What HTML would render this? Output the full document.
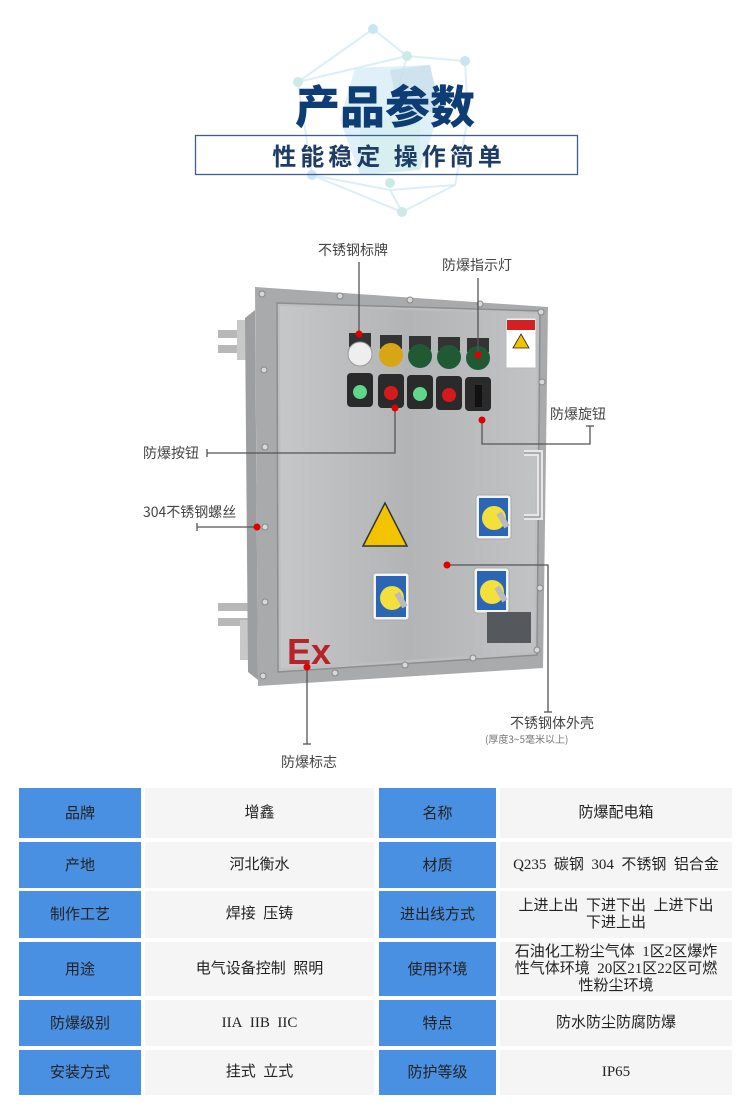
<!DOCTYPE html>
<html><head><meta charset="utf-8">
<style>
*{margin:0;padding:0;box-sizing:border-box}
body{width:750px;height:1118px;background:#fff;font-family:"Liberation Sans","Noto Sans CJK SC",sans-serif;position:relative;overflow:hidden}
.t{position:absolute;font-family:"Noto Sans CJK SC",sans-serif}
.cell{position:absolute;display:flex;align-items:center;justify-content:center;text-align:center;font-size:15px;color:#222;font-family:"Liberation Serif","WenQuanYi Zen Hei",serif;line-height:17px;white-space:nowrap}
.h{background:#4a90e2;font-family:"Liberation Sans","WenQuanYi Zen Hei",sans-serif}
.v{background:#f5f5f5}
</style></head><body>
<svg width="750" height="1118" style="position:absolute;left:0;top:0">
<g stroke="#ddeef7" stroke-width="2" fill="none">
<polyline points="373,29 407,56 465,61 468,118 455,185 402,212 312,175 298,82 373,29"/>
<line x1="407" y1="56" x2="390" y2="120"/><line x1="312" y1="175" x2="390" y2="190"/><line x1="298" y1="82" x2="407" y2="56"/><line x1="390" y1="190" x2="402" y2="212"/><line x1="455" y1="185" x2="390" y2="190"/>
</g>
<polygon points="355,68 430,65 440,110 420,170 360,175 340,120" fill="#d2eaf6" opacity="0.7"/>
<polygon points="390,70 430,65 440,110 400,120" fill="#c3dbe6" opacity="0.6"/>
<polygon points="360,120 420,120 420,170 360,175" fill="#d2efe8" opacity="0.6"/>
<g fill="#c8e6f1"><circle cx="373" cy="29" r="5"/><circle cx="465" cy="61" r="5"/><circle cx="298" cy="82" r="5" fill="#cdeae4"/><circle cx="407" cy="56" r="5" fill="#cdeae4"/><circle cx="312" cy="175" r="5"/><circle cx="390" cy="183" r="5" fill="#cdeae4"/><circle cx="402" cy="212" r="5" fill="#cdeae4"/></g>
<rect x="195.5" y="135.5" width="382" height="39" fill="none" stroke="#3d5f8f" stroke-width="1.3"/>

<rect x="218" y="330" width="30" height="8" fill="#b8b8b8"/><rect x="218" y="345" width="30" height="8" fill="#b8b8b8"/>
<rect x="237" y="320" width="12" height="40" fill="#c8c8c8"/>
<rect x="218" y="603" width="30" height="8" fill="#b8b8b8"/><rect x="218" y="618" width="30" height="8" fill="#b8b8b8"/>
<rect x="240" y="620" width="12" height="40" fill="#c8c8c8"/>
<polygon points="255,287 548,307 543,668 258,686" fill="#a9aaab"/>
<polygon points="245,318 255,310 258,680 248,672" fill="#9d9e9f"/>
<polygon points="277,303 540,311 537,655 278,672" fill="#bdbebf" stroke="#8d8e8f" stroke-width="1.5"/>
<defs><linearGradient id="g" x1="0" x2="1"><stop offset="0" stop-color="#c6c7c8"/><stop offset=".5" stop-color="#b3b4b5"/><stop offset="1" stop-color="#c2c3c4"/></linearGradient></defs>
<polygon points="280,306 537,314 534,652 281,668" fill="url(#g)"/>
<g fill="#d8d8d8" stroke="#888"><circle cx="262" cy="294" r="3"/><circle cx="340" cy="296" r="3"/><circle cx="410" cy="300" r="3"/><circle cx="480" cy="304" r="3"/><circle cx="541" cy="312" r="3"/><circle cx="264" cy="370" r="3"/><circle cx="265" cy="447" r="3"/><circle cx="265" cy="527" r="3"/><circle cx="265" cy="602" r="3"/><circle cx="263" cy="676" r="3"/><circle cx="335" cy="673" r="3"/><circle cx="405" cy="665" r="3"/><circle cx="473" cy="658" r="3"/><circle cx="537" cy="650" r="3"/><circle cx="542" cy="382" r="3"/><circle cx="540" cy="588" r="3"/></g>
<g><rect x="349" y="333" width="22" height="14" fill="#333"/><circle cx="360" cy="354" r="12" fill="#eee" stroke="#999"/>
<rect x="380" y="335" width="22" height="14" fill="#333"/><circle cx="391" cy="355" r="12" fill="#d6a615"/>
<rect x="409" y="336" width="22" height="14" fill="#333"/><circle cx="420" cy="356" r="12" fill="#1f5a35"/>
<rect x="438" y="337" width="22" height="14" fill="#333"/><circle cx="449" cy="357" r="12" fill="#1f5a35"/>
<rect x="467" y="338" width="22" height="14" fill="#333"/><circle cx="478" cy="358" r="12" fill="#1f5a35"/></g>
<g><rect x="347" y="373" width="26" height="34" rx="4" fill="#2a2a2a"/><circle cx="360" cy="392" r="7" fill="#5fd68a"/>
<rect x="378" y="374" width="26" height="34" rx="4" fill="#2a2a2a"/><circle cx="391" cy="393" r="7" fill="#d41a1a"/>
<rect x="407" y="375" width="26" height="34" rx="4" fill="#2a2a2a"/><circle cx="420" cy="394" r="7" fill="#5fd68a"/>
<rect x="436" y="376" width="26" height="34" rx="4" fill="#2a2a2a"/><circle cx="449" cy="395" r="7" fill="#d41a1a"/>
<rect x="465" y="377" width="26" height="34" rx="4" fill="#2a2a2a"/><rect x="475" y="385" width="7" height="22" fill="#111"/></g>
<rect x="506" y="318" width="30" height="50" fill="#fff" stroke="#bbb"/><rect x="507" y="320" width="28" height="10" fill="#d42020"/>
<polygon points="521,334 529,348 513,348" fill="#f2c400" stroke="#222" stroke-width=".8"/>
<polygon points="385,503 407,546 363,546" fill="#f2c400" stroke="#333" stroke-width="1.5"/>
<path d="M524,453 H540 V517 H524" fill="none" stroke="#e6e6e6" stroke-width="6"/>
<path d="M524,453 H540 V517 H524" fill="none" stroke="#8a8a8a" stroke-width="1.2"/>
<g><rect x="476" y="495" width="35" height="44" rx="3" fill="#f4f4f4" stroke="#aaa"/><rect x="479" y="498" width="29" height="38" fill="#2b65b5"/><circle cx="494" cy="518" r="12" fill="#f3e03a"/><rect x="500" y="512" width="6" height="16" fill="#bbb" transform="rotate(-30 503 520)"/></g>
<g><rect x="373" y="573" width="36" height="47" rx="3" fill="#f4f4f4" stroke="#aaa"/><rect x="376" y="576" width="30" height="41" fill="#2b65b5"/><circle cx="392" cy="598" r="12" fill="#f3e03a"/><rect x="398" y="592" width="6" height="16" fill="#bbb" transform="rotate(-30 401 600)"/></g>
<g><rect x="474" y="568" width="35" height="45" rx="3" fill="#f4f4f4" stroke="#aaa"/><rect x="477" y="571" width="29" height="39" fill="#2b65b5"/><circle cx="492" cy="592" r="12" fill="#f3e03a"/><rect x="498" y="586" width="6" height="16" fill="#bbb" transform="rotate(-30 501 594)"/></g>
<rect x="487" y="612" width="44" height="31" fill="#55585c"/>
<text x="287" y="664" font-family="Liberation Sans" font-weight="bold" font-size="36" fill="#b5242a">Ex</text>
<g stroke="#555" stroke-width="1.3" fill="none">
<line x1="359" y1="262" x2="359" y2="334"/>
<line x1="478" y1="278" x2="478" y2="355"/>
<polyline points="482,420 482,444 590,444 590,426"/><line x1="586" y1="426" x2="594" y2="426"/>
<polyline points="207,453 395,453 395,408"/><line x1="207" y1="449" x2="207" y2="457"/>
<line x1="197" y1="527" x2="257" y2="527"/><line x1="197" y1="523" x2="197" y2="531"/>
<polyline points="447,565 548,565 548,712"/><line x1="544" y1="712" x2="552" y2="712"/>
<line x1="307" y1="667" x2="307" y2="744"/><line x1="303" y1="744" x2="311" y2="744"/>
</g>
<g fill="#e00000"><circle cx="359" cy="334" r="3.5"/><circle cx="478" cy="355" r="3.5"/><circle cx="482" cy="420" r="3.5"/><circle cx="395" cy="408" r="3.5"/><circle cx="257" cy="527" r="3.5"/><circle cx="447" cy="565" r="3.5"/><circle cx="307" cy="667" r="3.5"/></g>
</svg>

<div class="t" style="left:10px;width:750px;top:76px;text-align:center;font-size:45px;font-weight:900;color:#0d3d74;line-height:56px">产品参数</div>
<div class="t" style="left:196px;width:386px;top:136px;text-align:center;font-size:24px;font-weight:bold;color:#1e3d66;letter-spacing:4px;line-height:38px">性能稳定 操作简单</div>

<div class="t" style="left:318px;top:240px;font-size:14px;color:#444">不锈钢标牌</div>
<div class="t" style="left:442px;top:255px;font-size:14px;color:#444">防爆指示灯</div>
<div class="t" style="left:550px;top:404px;font-size:14px;color:#444">防爆旋钮</div>
<div class="t" style="left:143px;top:443px;font-size:14px;color:#444">防爆按钮</div>
<div class="t" style="left:143px;top:502px;font-size:14px;color:#444">304不锈钢螺丝</div>
<div class="t" style="left:510px;top:713px;font-size:14px;color:#444">不锈钢体外壳</div>
<div class="t" style="left:485px;top:731px;font-size:10px;color:#777">(厚度3~5毫米以上)</div>
<div class="t" style="left:281px;top:752px;font-size:14px;color:#444">防爆标志</div>

<div class="cell h" style="left:19px;top:788px;width:122px;height:50px">品牌</div>
<div class="cell v" style="left:145px;top:788px;width:229px;height:50px">增鑫</div>
<div class="cell h" style="left:379px;top:788px;width:117px;height:50px">名称</div>
<div class="cell v" style="left:500px;top:788px;width:232px;height:50px">防爆配电箱</div>

<div class="cell h" style="left:19px;top:842px;width:122px;height:46px">产地</div>
<div class="cell v" style="left:145px;top:842px;width:229px;height:46px">河北衡水</div>
<div class="cell h" style="left:379px;top:842px;width:117px;height:46px">材质</div>
<div class="cell v" style="left:500px;top:842px;width:232px;height:46px">Q235&nbsp; 碳钢&nbsp; 304&nbsp; 不锈钢&nbsp; 铝合金</div>

<div class="cell h" style="left:19px;top:891px;width:122px;height:47px">制作工艺</div>
<div class="cell v" style="left:145px;top:891px;width:229px;height:47px">焊接&nbsp; 压铸</div>
<div class="cell h" style="left:379px;top:891px;width:117px;height:47px">进出线方式</div>
<div class="cell v" style="left:500px;top:891px;width:232px;height:47px"><div>上进上出&nbsp; 下进下出&nbsp; 上进下出<br>下进上出</div></div>

<div class="cell h" style="left:19px;top:942px;width:122px;height:54px">用途</div>
<div class="cell v" style="left:145px;top:942px;width:229px;height:54px">电气设备控制&nbsp; 照明</div>
<div class="cell h" style="left:379px;top:942px;width:117px;height:54px">使用环境</div>
<div class="cell v" style="left:500px;top:942px;width:232px;height:54px"><div>石油化工粉尘气体&nbsp; 1区2区爆炸<br>性气体环境&nbsp; 20区21区22区可燃<br>性粉尘环境</div></div>

<div class="cell h" style="left:19px;top:1000px;width:122px;height:46px">防爆级别</div>
<div class="cell v" style="left:145px;top:1000px;width:229px;height:46px">IIA&nbsp; IIB&nbsp; IIC</div>
<div class="cell h" style="left:379px;top:1000px;width:117px;height:46px">特点</div>
<div class="cell v" style="left:500px;top:1000px;width:232px;height:46px">防水防尘防腐防爆</div>

<div class="cell h" style="left:19px;top:1050px;width:122px;height:45px">安装方式</div>
<div class="cell v" style="left:145px;top:1050px;width:229px;height:45px">挂式&nbsp; 立式</div>
<div class="cell h" style="left:379px;top:1050px;width:117px;height:45px">防护等级</div>
<div class="cell v" style="left:500px;top:1050px;width:232px;height:45px">IP65</div>
</body></html>
